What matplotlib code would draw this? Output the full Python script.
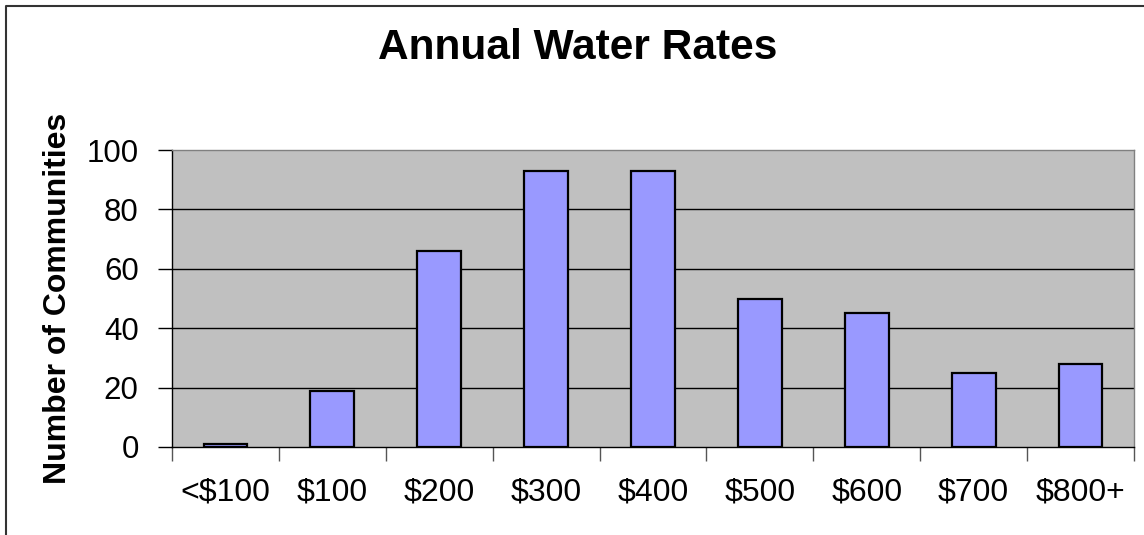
import matplotlib
matplotlib.use("Agg")
import matplotlib.pyplot as plt
import numpy as np
from matplotlib.lines import Line2D

categories = ["<$100", "$100", "$200", "$300", "$400", "$500", "$600", "$700", "$800+"]
counts = [1, 19, 66, 93, 93, 50, 45, 25, 28]
yticks = [0, 20, 40, 60, 80, 100]

plt.rcParams['font.family'] = ['Liberation Sans', 'DejaVu Sans']

W, H = 1144, 535
fig = plt.figure(figsize=(W / 100, H / 100), dpi=100)
fig.patch.set_facecolor("white")

ax = fig.add_axes([172 / W, (H - 447) / H, 962 / W, 297 / H])
ax.set_facecolor("#C0C0C0")

x = np.arange(len(categories))
ax.bar(x, counts, width=0.41, color="#9999FF", edgecolor="black", linewidth=1.6, zorder=3)

ax.set_xlim(-0.5, len(categories) - 0.5)
ax.set_ylim(0, 100)
ax.set_yticks(yticks)
ax.set_yticklabels([str(v) for v in yticks], fontsize=22.5)
ax.set_xticks(x)
ax.set_xticklabels(categories, fontsize=23)
ax.set_xticks(np.arange(len(categories) + 1) - 0.5, minor=True)
ax.tick_params(axis="x", which="major", length=0, pad=22)
ax.tick_params(axis="x", which="minor", length=10, width=1, color="#555555", direction="out")
ax.tick_params(axis="y", which="major", length=10, width=1, color="black", direction="out", pad=14)

for v in yticks[1:-1]:
    ax.axhline(v, color="black", linewidth=1, zorder=1)

ax.spines["top"].set_color("#808080")
ax.spines["right"].set_color("#808080")
ax.spines["left"].set_color("black")
ax.spines["bottom"].set_color("black")
for s in ax.spines.values():
    s.set_linewidth(1)

fig.text(578 / W, 1 - 59 / H, "Annual Water Rates", fontsize=30.5, fontweight="bold",
         ha="center", va="baseline")
fig.text(58 / W, 1 - 298 / H, "Number of Communities", fontsize=23, fontweight="bold",
         rotation=90, ha="center", va="center")

# chart border (left and top)
fig.add_artist(Line2D([6 / W, 6 / W, 1.0], [0.0, 1 - 6 / H, 1 - 6 / H],
                      transform=fig.transFigure, color="#333333", linewidth=1.5))

fig.savefig("out.png", dpi=100)
